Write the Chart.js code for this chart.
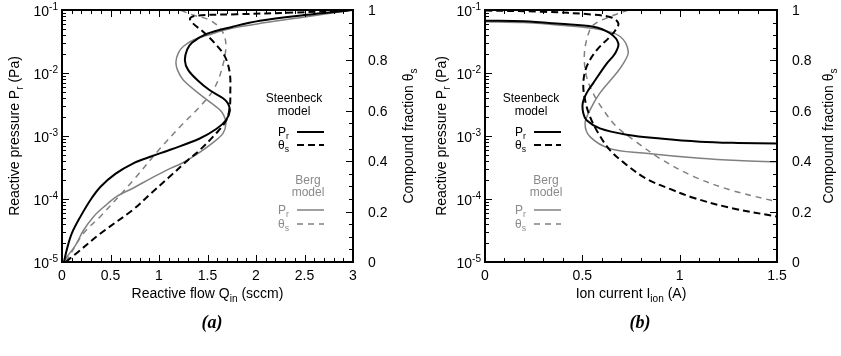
<!DOCTYPE html>
<html>
<head>
<meta charset="utf-8">
<script src="https://cdn.jsdelivr.net/npm/chart.js@4.4.1/dist/chart.umd.min.js"></script>
<style>
  body { margin: 0; background: #fff; }
  #wrap { position: relative; width: 841px; height: 356px; }
  canvas { position: absolute; top: 0; }
  #chartA { left: 0; }
  #chartB { left: 420px; }
</style>
</head>
<body>
<div id="wrap">
  <canvas id="chartA" width="420" height="356"></canvas>
  <canvas id="chartB" width="421" height="356"></canvas>
</div>
<script>
// (a) reactive flow sweep
const aSteenPrQ = [0.02, 0.05, 0.10, 0.19, 0.30, 0.40, 0.55, 0.74, 0.91, 1.13, 1.42, 1.59, 1.69, 1.73, 1.71, 1.66, 1.52, 1.40, 1.30, 1.267, 1.29, 1.34, 1.49, 1.76, 2.04, 2.5, 3.0];
const aSteenPr  = [1.0e-5, 1.58e-5, 2.82e-5, 5.25e-5, 1.0e-4, 1.58e-4, 2.51e-4, 3.72e-4, 4.68e-4, 6.17e-4, 9.12e-4, 1.29e-3, 1.78e-3, 2.51e-3, 3.31e-3, 3.98e-3, 5.37e-3, 7.59e-3, 1.12e-2, 1.58e-2, 2.34e-2, 3.02e-2, 4.17e-2, 5.43e-2, 6.76e-2, 8.32e-2, 1.0e-1];
const aBergPrQ  = [0.02, 0.06, 0.137, 0.22, 0.325, 0.45, 0.565, 0.74, 0.907, 1.08, 1.25, 1.40, 1.56, 1.66, 1.69, 1.67, 1.63, 1.455, 1.25, 1.19, 1.175, 1.20, 1.25, 1.35, 1.50, 1.75, 2.1, 2.5, 3.0];
const aBergPr   = [1.0e-5, 1.26e-5, 1.82e-5, 3.16e-5, 5.25e-5, 7.94e-5, 1.10e-4, 1.51e-4, 2.09e-4, 2.88e-4, 3.80e-4, 5.25e-4, 7.94e-4, 1.10e-3, 1.58e-3, 2.09e-3, 2.57e-3, 4.17e-3, 7.76e-3, 1.12e-2, 1.51e-2, 2.09e-2, 2.63e-2, 3.31e-2, 3.98e-2, 5.13e-2, 6.31e-2, 7.76e-2, 1.0e-1];
const aSteenThQ = [0.04, 0.15, 0.40, 0.74, 0.91, 1.10, 1.30, 1.42, 1.59, 1.695, 1.73, 1.735, 1.73, 1.68, 1.575, 1.455, 1.35, 1.32, 1.39, 1.8, 2.4, 3.0];
const aSteenTh  = [0, 0.035, 0.114, 0.21, 0.27, 0.335, 0.405, 0.444, 0.511, 0.563, 0.616, 0.67, 0.749, 0.815, 0.868, 0.914, 0.947, 0.967, 0.978, 0.983, 0.99, 1.0];
const aBergThQ  = [0.04, 0.222, 0.394, 0.736, 1.01, 1.25, 1.42, 1.56, 1.645, 1.69, 1.645, 1.52, 1.35, 1.215];
const aBergTh   = [0, 0.114, 0.18, 0.325, 0.45, 0.55, 0.616, 0.683, 0.762, 0.86, 0.92, 0.96, 0.98, 1.0];

// (b) ion current sweep
const bSteenPrI = [0, 0.2, 0.385, 0.556, 0.642, 0.685, 0.668, 0.625, 0.556, 0.522, 0.502, 0.505, 0.522, 0.59, 0.728, 0.90, 1.104, 1.3, 1.5];
const bSteenPr  = [6.76e-2, 6.61e-2, 6.03e-2, 5.43e-2, 4.27e-2, 2.95e-2, 2.04e-2, 1.41e-2, 6.92e-3, 4.79e-3, 3.31e-3, 2.29e-3, 1.78e-3, 1.32e-3, 1.05e-3, 9.12e-4, 8.13e-4, 7.76e-4, 7.59e-4];
const bBergPrI  = [0, 0.2, 0.385, 0.59, 0.694, 0.736, 0.71, 0.676, 0.59, 0.539, 0.514, 0.539, 0.642, 0.813, 1.104, 1.3, 1.5];
const bBergPr   = [6.53e-2, 6.31e-2, 5.75e-2, 4.90e-2, 3.80e-2, 2.19e-2, 1.41e-2, 1.0e-2, 4.79e-3, 2.57e-3, 1.58e-3, 9.77e-4, 6.31e-4, 5.37e-4, 4.42e-4, 4.07e-4, 3.89e-4];
const bSteenThI = [0, 0.3, 0.55, 0.65, 0.685, 0.67, 0.642, 0.574, 0.522, 0.505, 0.514, 0.539, 0.582, 0.642, 0.728, 0.83, 0.95, 1.07, 1.26, 1.5];
const bSteenTh  = [0.998, 0.993, 0.982, 0.97, 0.947, 0.92, 0.894, 0.841, 0.775, 0.709, 0.643, 0.577, 0.511, 0.444, 0.385, 0.33, 0.29, 0.255, 0.215, 0.18];
const bBergThI  = [0.736, 0.642, 0.556, 0.525, 0.51, 0.522, 0.556, 0.608, 0.676, 0.78, 0.90, 1.07, 1.26, 1.5];
const bBergTh   = [1.0, 0.973, 0.94, 0.89, 0.815, 0.735, 0.669, 0.603, 0.537, 0.475, 0.41, 0.34, 0.286, 0.239];

// axis ticks
const flowTicks = [0, 0.5, 1, 1.5, 2, 2.5, 3];
const flowLabels = ['0', '0.5', '1', '1.5', '2', '2.5', '3'];
const currentTicks = [0, 0.5, 1, 1.5];
const currentLabels = ['0', '0.5', '1', '1.5'];
const pressureTicks = [1e-5, 1e-4, 1e-3, 1e-2, 1e-1];
const pressureExp = ['-5', '-4', '-3', '-2', '-1'];
const fractionTicks = [0, 0.2, 0.4, 0.6, 0.8, 1];
const fractionLabels = ['0', '0.2', '0.4', '0.6', '0.8', '1'];

const FONT = "'Liberation Sans', Arial, sans-serif";
const GREY = '#808080';
const GREY_TEXT = '#8a8a8a';

function zip(xs, ys) {
    return xs.map((x, i) => ({ x: x, y: ys[i] }));
}

// text with sub/superscript pieces: [[text, ''|'sub'|'sup'], ...]
function richText(ctx, parts, x, y, align, size, color) {
    let w = 0;
    parts.forEach(p => {
        ctx.font = (p[1] ? size * 0.72 : size) + 'px ' + FONT;
        w += ctx.measureText(p[0]).width;
    });
    let cx = align === 'center' ? x - w / 2 : (align === 'right' ? x - w : x);
    ctx.fillStyle = color;
    ctx.textAlign = 'left';
    ctx.textBaseline = 'alphabetic';
    parts.forEach(p => {
        const s = p[1] ? size * 0.72 : size;
        ctx.font = s + 'px ' + FONT;
        const dy = p[1] === 'sub' ? size * 0.28 : (p[1] === 'sup' ? -size * 0.42 : 0);
        ctx.fillText(p[0], cx, y + dy);
        cx += ctx.measureText(p[0]).width;
    });
}

function rotatedText(ctx, parts, x, y, size) {
    ctx.save();
    ctx.translate(x, y);
    ctx.rotate(-Math.PI / 2);
    richText(ctx, parts, 0, size * 0.35, 'center', size, '#000');
    ctx.restore();
}

// frame, inward ticks, labels, titles and legend
const framePlugin = {
    id: 'frame',
    afterDatasetsDraw(chart, args, o) {
        const ctx = chart.ctx;
        const a = chart.chartArea;
        const sx = chart.scales.x, sy = chart.scales.y, sy2 = chart.scales.y2;
        ctx.save();
        ctx.strokeStyle = '#000';
        ctx.lineWidth = 1;
        ctx.setLineDash([]);

        const tick = (x0, y0, x1, y1) => {
            ctx.beginPath();
            ctx.moveTo(x0, y0);
            ctx.lineTo(x1, y1);
            ctx.stroke();
        };

        // x ticks, mirrored on top
        const xmax = sx.max;
        for (let i = 0; i <= Math.round(xmax / 0.1); i++) {
            const v = i * 0.1;
            const px = Math.round(sx.getPixelForValue(v)) + 0.5;
            const len = (i % 5 === 0) ? 7 : 4;
            tick(px, a.bottom, px, a.bottom - len);
            tick(px, a.top, px, a.top + len);
        }
        o.xTicks.forEach((v, i) => {
            richText(ctx, [[o.xLabels[i], '']], sx.getPixelForValue(v), 280, 'center', 14, '#000');
        });

        // log pressure ticks on the left
        pressureTicks.forEach((d, i) => {
            const py = Math.round(sy.getPixelForValue(d)) + 0.5;
            tick(a.left, py, a.left + 7, py);
            if (i < pressureTicks.length - 1) {
                for (let k = 2; k <= 9; k++) {
                    const my = Math.round(sy.getPixelForValue(d * k)) + 0.5;
                    tick(a.left, my, a.left + 4, my);
                }
            }
            richText(ctx, [['10', ''], [pressureExp[i], 'sup']], a.left - 4, sy.getPixelForValue(d) + 6, 'right', 14, '#000');
        });

        // compound fraction ticks on the right
        for (let i = 0; i <= 20; i++) {
            const py = Math.round(sy2.getPixelForValue(i * 0.05)) + 0.5;
            const len = (i % 4 === 0) ? 7 : 4;
            tick(a.right, py, a.right - len, py);
        }
        fractionTicks.forEach((v, i) => {
            richText(ctx, [[fractionLabels[i], '']], a.right + 15, sy2.getPixelForValue(v) + 5, 'left', 14, '#000');
        });

        // border
        ctx.lineWidth = 2;
        ctx.strokeRect(a.left, a.top, a.right - a.left, a.bottom - a.top);

        // axis titles
        richText(ctx, o.xTitle, (a.left + a.right) / 2, 298, 'center', 14, '#000');
        rotatedText(ctx, [['Reactive pressure P', ''], ['r', 'sub'], [' (Pa)', '']], o.yTitleX, 136, 14);
        rotatedText(ctx, [['Compound fraction θ', ''], ['s', 'sub']], o.y2TitleX, 136, 14);

        // legend
        const lg = o.legend;
        const sample = (y, color, width, dash) => {
            ctx.strokeStyle = color;
            ctx.lineWidth = width;
            ctx.setLineDash(dash);
            ctx.beginPath();
            ctx.moveTo(lg.lineX0, y);
            ctx.lineTo(lg.lineX1, y);
            ctx.stroke();
            ctx.setLineDash([]);
        };
        richText(ctx, [['Steenbeck', '']], lg.steenX, 102, 'center', 12, '#000');
        richText(ctx, [['model', '']], lg.steenX, 115, 'center', 12, '#000');
        richText(ctx, [['P', ''], ['r', 'sub']], lg.labelX, 136, 'left', 12, '#000');
        sample(132, '#000', 2, []);
        richText(ctx, [['θ', ''], ['s', 'sub']], lg.labelX, 149, 'left', 12, '#000');
        sample(145, '#000', 2, [7, 4]);
        richText(ctx, [['Berg', '']], lg.bergX, 184, 'center', 12, GREY_TEXT);
        richText(ctx, [['model', '']], lg.bergX, 196, 'center', 12, GREY_TEXT);
        richText(ctx, [['P', ''], ['r', 'sub']], lg.labelX, 214, 'left', 12, GREY_TEXT);
        sample(210, GREY, 1.5, []);
        richText(ctx, [['θ', ''], ['s', 'sub']], lg.labelX, 228, 'left', 12, GREY_TEXT);
        sample(224, GREY, 1.5, [6, 5]);

        // panel tag
        ctx.fillStyle = '#000';
        ctx.font = "italic bold 18px 'Liberation Serif', 'Times New Roman', serif";
        ctx.textAlign = 'center';
        ctx.textBaseline = 'alphabetic';
        ctx.fillText(o.tag, o.tagX, 328);
        ctx.restore();
    }
};

function series(data, axis, color, width, dash, order) {
    return {
        data: data,
        yAxisID: axis,
        borderColor: color,
        borderWidth: width,
        borderDash: dash,
        showLine: true,
        fill: false,
        pointRadius: 0,
        tension: 0.35,
        order: order
    };
}

function makePanel(id, xMax, sets, padding, frameOpts) {
    return new Chart(document.getElementById(id), {
        type: 'scatter',
        data: { datasets: sets },
        options: {
            responsive: false,
            animation: false,
            devicePixelRatio: 1,
            layout: { padding: padding },
            scales: {
                x: { type: 'linear', min: 0, max: xMax, display: false },
                y: { type: 'logarithmic', min: 1e-5, max: 1e-1, display: false },
                y2: { type: 'linear', min: 0, max: 1, display: false }
            },
            plugins: {
                legend: { display: false },
                tooltip: { enabled: false },
                frame: frameOpts
            }
        },
        plugins: [framePlugin]
    });
}

makePanel('chartA', 3, [
    series(zip(aSteenPrQ, aSteenPr), 'y', '#000', 2, [], 1),
    series(zip(aSteenThQ, aSteenTh), 'y2', '#000', 2, [7, 4], 2),
    series(zip(aBergPrQ, aBergPr), 'y', GREY, 1.5, [], 3),
    series(zip(aBergThQ, aBergTh), 'y2', GREY, 1.5, [6, 5], 4)
], { left: 62, right: 67, top: 10, bottom: 94 }, {
    xTicks: flowTicks,
    xLabels: flowLabels,
    xTitle: [['Reactive flow Q', ''], ['in', 'sub'], [' (sccm)', '']],
    yTitleX: 14,
    y2TitleX: 408,
    legend: { steenX: 294, bergX: 308, labelX: 278, lineX0: 297, lineX1: 324 },
    tag: '(a)',
    tagX: 212
});

makePanel('chartB', 1.5, [
    series(zip(bSteenPrI, bSteenPr), 'y', '#000', 2, [], 1),
    series(zip(bSteenThI, bSteenTh), 'y2', '#000', 2, [7, 4], 2),
    series(zip(bBergPrI, bBergPr), 'y', GREY, 1.5, [], 3),
    series(zip(bBergThI, bBergTh), 'y2', GREY, 1.5, [6, 5], 4)
], { left: 65, right: 64, top: 10, bottom: 94 }, {
    xTicks: currentTicks,
    xLabels: currentLabels,
    xTitle: [['Ion current I', ''], ['ion', 'sub'], [' (A)', '']],
    yTitleX: 21,
    y2TitleX: 408,
    legend: { steenX: 111, bergX: 126, labelX: 95, lineX0: 114, lineX1: 141 },
    tag: '(b)',
    tagX: 220
});
</script>
</body>
</html>
